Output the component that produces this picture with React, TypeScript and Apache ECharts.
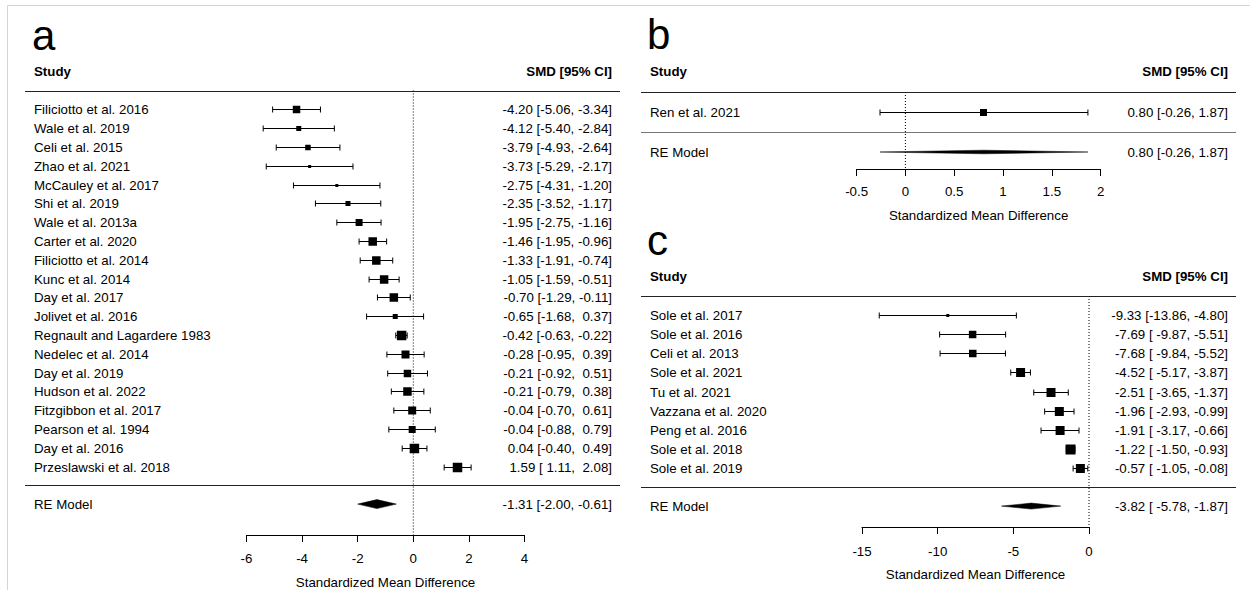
import React, { useEffect, useRef } from "react";
import * as echarts from "echarts";

// ---------- Panel a data ----------
const studiesA = [
  "Filiciotto et al. 2016", "Wale et al. 2019", "Celi et al. 2015", "Zhao et al. 2021",
  "McCauley et al. 2017", "Shi et al. 2019", "Wale et al. 2013a", "Carter et al. 2020",
  "Filiciotto et al. 2014", "Kunc et al. 2014", "Day et al. 2017", "Jolivet et al. 2016",
  "Regnault and Lagardere 1983", "Nedelec et al. 2014", "Day et al. 2019", "Hudson et al. 2022",
  "Fitzgibbon et al. 2017", "Pearson et al. 1994", "Day et al. 2016", "Przeslawski et al. 2018",
];
const estA = [-4.20, -4.12, -3.79, -3.73, -2.75, -2.35, -1.95, -1.46, -1.33, -1.05, -0.70, -0.65, -0.42, -0.28, -0.21, -0.21, -0.04, -0.04, 0.04, 1.59];
const loA = [-5.06, -5.40, -4.93, -5.29, -4.31, -3.52, -2.75, -1.95, -1.91, -1.59, -1.29, -1.68, -0.63, -0.95, -0.92, -0.79, -0.70, -0.88, -0.40, 1.11];
const hiA = [-3.34, -2.84, -2.64, -2.17, -1.20, -1.17, -1.16, -0.96, -0.74, -0.51, -0.11, 0.37, -0.22, 0.39, 0.51, 0.38, 0.61, 0.79, 0.49, 2.08];
const weightA = [7.5, 5, 5.5, 3, 3, 5, 7, 8.5, 8.5, 8.5, 8.5, 5, 9.5, 8, 7.5, 8.5, 8, 7, 9.5, 9.5];
const reA = [-1.31, -2.00, -0.61];
const ticksA = [-6, -4, -2, 0, 2, 4];

// ---------- Panel b data ----------
const studiesB = ["Ren et al. 2021"];
const estB = [0.80];
const loB = [-0.26];
const hiB = [1.87];
const weightB = [7];
const reB = [0.80, -0.26, 1.87];
const ticksB = [-0.5, 0, 0.5, 1, 1.5, 2];

// ---------- Panel c data ----------
const studiesC = [
  "Sole et al. 2017", "Sole et al. 2016", "Celi et al. 2013", "Sole et al. 2021", "Tu et al. 2021",
  "Vazzana et al. 2020", "Peng et al. 2016", "Sole et al. 2018", "Sole et al. 2019",
];
const estC = [-9.33, -7.69, -7.68, -4.52, -2.51, -1.96, -1.91, -1.22, -0.57];
const loC = [-13.86, -9.87, -9.84, -5.17, -3.65, -2.93, -3.17, -1.50, -1.05];
const hiC = [-4.80, -5.51, -5.52, -3.87, -1.37, -0.99, -0.66, -0.93, -0.08];
const weightC = [3, 7.5, 7.5, 9, 9, 9, 9, 10, 9];
const reC = [-3.82, -5.78, -1.87];
const ticksC = [-15, -10, -5, 0];

const FONT = "'Liberation Sans', Arial, Helvetica, sans-serif";
const FS = 13.3;

function pad(v: number, w: number) {
  const s = v.toFixed(2);
  return s.length >= w ? s : " ".repeat(w - s.length) + s;
}

function makeLabels(est: number[], lo: number[], hi: number[], re: number[]) {
  const we = Math.max(...est.map((v) => v.toFixed(2).length), re[0].toFixed(2).length);
  const wl = Math.max(...lo.map((v) => v.toFixed(2).length), re[1].toFixed(2).length);
  const wh = Math.max(...hi.map((v) => v.toFixed(2).length), re[2].toFixed(2).length);
  const f = (e: number, l: number, h: number) => `${pad(e, we)} [${pad(l, wl)}, ${pad(h, wh)}]`;
  return { rows: est.map((e, i) => f(e, lo[i], hi[i])), re: f(re[0], re[1], re[2]) };
}

type Panel = {
  studies: string[]; est: number[]; lo: number[]; hi: number[]; weight: number[]; re: number[]; ticks: number[];
  gridLeft: number; gridWidth: number; gridTop: number; axisY: number; rowH: number;
  nameX: number; valX: number; lineX1: number; lineX2: number; diamondH: number; sepColor: string;
  labelMargin: number; nameGap: number;
};

const panels: Panel[] = [
  {
    studies: studiesA, est: estA, lo: loA, hi: hiA, weight: weightA, re: reA, ticks: ticksA,
    gridLeft: 246.5, gridWidth: 278, gridTop: 90.5, axisY: 535, rowH: 18.8,
    nameX: 34, valX: 612, lineX1: 25, lineX2: 620, diamondH: 4.5, sepColor: "#222",
    labelMargin: 17, nameGap: 41,
  },
  {
    studies: studiesB, est: estB, lo: loB, hi: hiB, weight: weightB, re: reB, ticks: ticksB,
    gridLeft: 856.6, gridWidth: 244, gridTop: 92, axisY: 169, rowH: 20,
    nameX: 650, valX: 1228, lineX1: 641, lineX2: 1236, diamondH: 1.8, sepColor: "#777",
    labelMargin: 16, nameGap: 40,
  },
  {
    studies: studiesC, est: estC, lo: loC, hi: hiC, weight: weightC, re: reC, ticks: ticksC,
    gridLeft: 862, gridWidth: 227, gridTop: 296, axisY: 527, rowH: 19.1,
    nameX: 650, valX: 1228, lineX1: 641, lineX2: 1236, diamondH: 3, sepColor: "#222",
    labelMargin: 18, nameGap: 41,
  },
];

function buildOption() {
  const grid: any[] = [];
  const xAxis: any[] = [];
  const yAxis: any[] = [];
  const series: any[] = [];

  panels.forEach((p, k) => {
    const n = p.studies.length;
    const yMax = (p.axisY - p.gridTop) / p.rowH;
    const sepRow = n + 1;
    const reRow = n + 2;
    const labels = makeLabels(p.est, p.lo, p.hi, p.re);
    const tMin = p.ticks[0];
    const tMax = p.ticks[p.ticks.length - 1];
    const tInt = p.ticks[1] - p.ticks[0];

    grid.push({
      left: p.gridLeft, width: p.gridWidth, top: p.gridTop, height: p.axisY - p.gridTop,
      containLabel: false, outerBoundsMode: "none",
    });
    xAxis.push({
      type: "value", gridIndex: k, min: tMin, max: tMax, interval: tInt, position: "bottom",
      axisLine: { show: true, onZero: false, lineStyle: { color: "#000", width: 1 } },
      axisTick: { show: true, length: 7, inside: false, lineStyle: { color: "#000", width: 1 } },
      splitLine: { show: false },
      axisLabel: { color: "#000", fontSize: FS, fontFamily: FONT, margin: p.labelMargin, formatter: (v: number) => String(v) },
      name: "Standardized Mean Difference", nameLocation: "middle", nameGap: p.nameGap,
      nameTextStyle: { color: "#000", fontSize: FS, fontFamily: FONT },
    });
    yAxis.push({ type: "value", gridIndex: k, min: 0, max: yMax, interval: yMax, inverse: true, show: false });

    // reference (no-effect) dotted line
    series.push({
      type: "line", xAxisIndex: k, yAxisIndex: k, data: [[0, 0], [0, yMax]], showSymbol: false, symbol: "none",
      lineStyle: { color: "#000", width: 1, type: [1, 2] }, silent: true, z: 1,
    });

    // header rule and separator rule
    series.push({
      type: "custom", xAxisIndex: k, yAxisIndex: k, data: [[0, 0], [0, sepRow]], clip: false, silent: true,
      renderItem: (params: any, api: any) => {
        const y = Math.round(api.coord([0, api.value(1)])[1]) + 0.5;
        return {
          type: "line", shape: { x1: p.lineX1, y1: y, x2: p.lineX2, y2: y },
          style: { stroke: params.dataIndex === 0 ? "#222" : p.sepColor, lineWidth: 1 },
        };
      },
    });

    // study rows
    series.push({
      type: "custom", xAxisIndex: k, yAxisIndex: k, clip: false, silent: true, z: 3,
      data: p.studies.map((_, i) => [i + 1, p.est[i], p.lo[i], p.hi[i], p.weight[i]]),
      renderItem: (params: any, api: any) => {
        const i = params.dataIndex;
        const row = api.value(0);
        const est = api.value(1), lo = api.value(2), hi = api.value(3), w = api.value(4);
        const y = Math.round(api.coord([est, row])[1]) + 0.5;
        const xe = api.coord([est, row])[0];
        const xl = api.coord([lo, row])[0];
        const xh = api.coord([hi, row])[0];
        return {
          type: "group",
          children: [
            { type: "line", shape: { x1: xl, y1: y, x2: xh, y2: y }, style: { stroke: "#000", lineWidth: 1 } },
            { type: "line", shape: { x1: xl, y1: y - 3, x2: xl, y2: y + 3 }, style: { stroke: "#000", lineWidth: 1 } },
            { type: "line", shape: { x1: xh, y1: y - 3, x2: xh, y2: y + 3 }, style: { stroke: "#000", lineWidth: 1 } },
            { type: "rect", shape: { x: xe - w / 2, y: y - w / 2, width: w, height: w }, style: { fill: "#000" } },
            {
              type: "text", x: p.nameX, y,
              style: { text: p.studies[i], fill: "#000", font: `${FS}px ${FONT}`, align: "left", verticalAlign: "middle" },
            },
            {
              type: "text", x: p.valX, y,
              style: { text: labels.rows[i], fill: "#000", font: `${FS}px ${FONT}`, align: "right", verticalAlign: "middle" },
            },
          ],
        };
      },
    });

    // RE model summary diamond
    series.push({
      type: "custom", xAxisIndex: k, yAxisIndex: k, clip: false, silent: true, z: 3,
      data: [[reRow, p.re[0], p.re[1], p.re[2]]],
      renderItem: (params: any, api: any) => {
        const row = api.value(0);
        const y = api.coord([api.value(1), row])[1];
        const xe = api.coord([api.value(1), row])[0];
        const xl = api.coord([api.value(2), row])[0];
        const xh = api.coord([api.value(3), row])[0];
        const h = p.diamondH;
        return {
          type: "group",
          children: [
            { type: "polygon", shape: { points: [[xl, y], [xe, y - h], [xh, y], [xe, y + h]] }, style: { fill: "#000", stroke: "#000", lineWidth: 0.5 } },
            { type: "text", x: p.nameX, y, style: { text: "RE Model", fill: "#000", font: `${FS}px ${FONT}`, align: "left", verticalAlign: "middle" } },
            { type: "text", x: p.valX, y, style: { text: labels.re, fill: "#000", font: `${FS}px ${FONT}`, align: "right", verticalAlign: "middle" } },
          ],
        };
      },
    });
  });

  const hdr = (text: string, x: number, y: number, align: string) => ({
    type: "text", x, y, silent: true,
    style: { text, fill: "#000", font: `bold ${FS}px ${FONT}`, align, verticalAlign: "middle" },
  });
  const letter = (text: string, x: number, y: number) => ({
    type: "text", x, y, silent: true,
    style: { text, fill: "#000", font: `42px ${FONT}`, align: "left", verticalAlign: "middle" },
  });

  const graphic = [
    { type: "rect", silent: true, shape: { x: 7.5, y: 5.5, width: 1400, height: 800 }, style: { fill: "none", stroke: "#d4d4d4", lineWidth: 1 } },
    letter("a", 32, 35), letter("b", 647, 34), letter("c", 647, 240),
    hdr("Study", 34, 71, "left"), hdr("SMD [95% CI]", 612, 71, "right"),
    hdr("Study", 650, 71, "left"), hdr("SMD [95% CI]", 1228, 71, "right"),
    hdr("Study", 650, 276, "left"), hdr("SMD [95% CI]", 1228, 276, "right"),
  ];

  return { animation: false, backgroundColor: "#fff", grid, xAxis, yAxis, series, graphic };
}

export default function App() {
  const ref = useRef<HTMLDivElement>(null);
  useEffect(() => {
    if (!ref.current) return;
    const chart = echarts.init(ref.current, undefined, { renderer: "svg" });
    chart.setOption(buildOption() as any);
    return () => chart.dispose();
  }, []);
  return (
    <div
      ref={ref}
      style={{ position: "absolute", left: 0, top: 0, width: 1250, height: 590, background: "#fff" }}
    />
  );
}
